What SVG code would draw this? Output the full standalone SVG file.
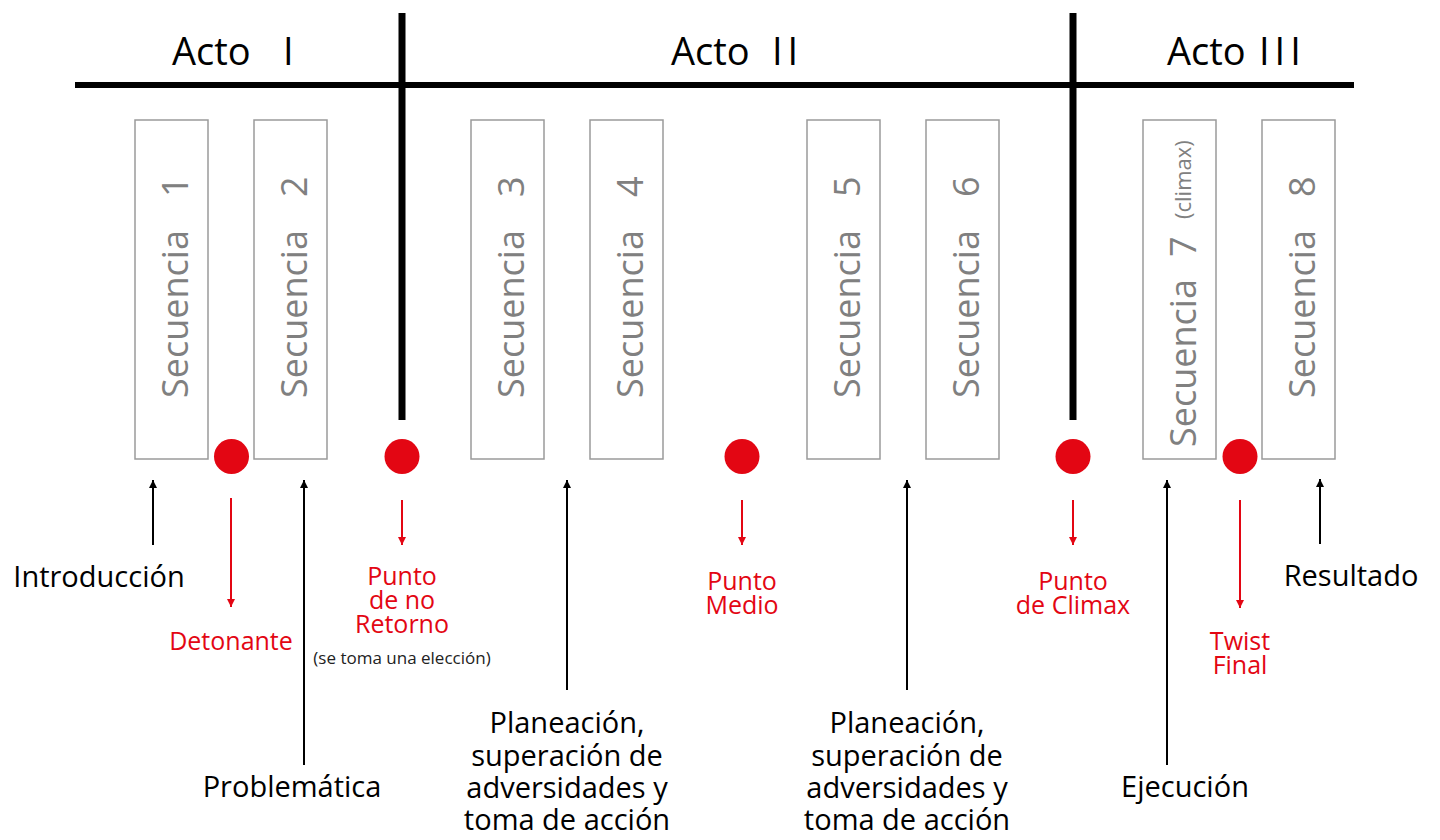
<svg xmlns="http://www.w3.org/2000/svg" width="1440" height="840" viewBox="0 0 1440 840">
<defs>
<marker id="ab" viewBox="0 0 10 10" refX="10" refY="5" markerWidth="8" markerHeight="9" markerUnits="userSpaceOnUse" orient="auto"><path d="M0,0 L10,5 L0,10 z" fill="#000"/></marker>
<marker id="ar" viewBox="0 0 10 10" refX="10" refY="5" markerWidth="8" markerHeight="9" markerUnits="userSpaceOnUse" orient="auto"><path d="M0,0 L10,5 L0,10 z" fill="#e30613"/></marker>
</defs>
<style>
text{font-family:"Open Sans","Noto Sans","Liberation Sans",sans-serif}
.act{font-size:38px;fill:#000}
.rom{letter-spacing:5px}
.box{fill:#fff;stroke:#9a9a9a;stroke-width:1.5}
.seq{font-size:36px;fill:#808080}
.dot{fill:#e30613}
.blk{stroke:#000;stroke-width:2;fill:none}
.red{stroke:#e30613;stroke-width:2;fill:none}
.lb{font-size:29px;fill:#000;text-anchor:middle}
.lr{font-size:25px;fill:#e30613;text-anchor:middle}
.sm{font-size:17px;fill:#222;text-anchor:middle}
.bar{stroke:#000;stroke-width:7}
</style>
<g id="axes">
<line class="bar" x1="75" y1="85" x2="1354" y2="85" style="stroke-width:6"/>
<line class="bar" x1="402" y1="13" x2="402" y2="420"/>
<line class="bar" x1="1073" y1="13" x2="1073" y2="420"/>
</g>
<g id="acts">
<text class="act" x="172" y="65">Acto<tspan x="283">I</tspan></text>
<text class="act" x="671" y="65">Acto<tspan class="rom" x="772">II</tspan></text>
<text class="act" x="1167" y="65">Acto<tspan class="rom" x="1259">III</tspan></text>
</g>
<g id="seq1"><rect class="box" x="135" y="120" width="73" height="339"/><text class="seq" transform="translate(188,398) rotate(-90)">Secuencia<tspan x="201">1</tspan></text></g>
<g id="seq2"><rect class="box" x="254" y="120" width="73" height="339"/><text class="seq" transform="translate(307,398) rotate(-90)">Secuencia<tspan x="201">2</tspan></text></g>
<g id="seq3"><rect class="box" x="471" y="120" width="73" height="339"/><text class="seq" transform="translate(524,398) rotate(-90)">Secuencia<tspan x="201">3</tspan></text></g>
<g id="seq4"><rect class="box" x="590" y="120" width="73" height="339"/><text class="seq" transform="translate(643,398) rotate(-90)">Secuencia<tspan x="201">4</tspan></text></g>
<g id="seq5"><rect class="box" x="807" y="120" width="73" height="339"/><text class="seq" transform="translate(860,398) rotate(-90)">Secuencia<tspan x="201">5</tspan></text></g>
<g id="seq6"><rect class="box" x="926" y="120" width="73" height="339"/><text class="seq" transform="translate(979,398) rotate(-90)">Secuencia<tspan x="201">6</tspan></text></g>
<g id="seq7"><rect class="box" x="1143" y="120" width="73" height="339"/><text class="seq" transform="translate(1196,447) rotate(-90)">Secuencia<tspan x="190">7</tspan><tspan x="228" dy="-5" style="font-size:22px">(climax)</tspan></text></g>
<g id="seq8"><rect class="box" x="1262" y="120" width="73" height="339"/><text class="seq" transform="translate(1315,398) rotate(-90)">Secuencia<tspan x="201">8</tspan></text></g>
<g id="points">
<circle class="dot" cx="231.5" cy="456.5" r="17.5"/>
<circle class="dot" cx="402" cy="456.5" r="17.5"/>
<circle class="dot" cx="742" cy="456.5" r="17.5"/>
<circle class="dot" cx="1073" cy="456.5" r="17.5"/>
<circle class="dot" cx="1240" cy="456.5" r="17.5"/>
</g>
<g id="connectors">
<line class="blk" x1="153" y1="545" x2="153" y2="480" marker-end="url(#ab)"/>
<line class="blk" x1="304" y1="765" x2="304" y2="480" marker-end="url(#ab)"/>
<line class="blk" x1="567" y1="690" x2="567" y2="480" marker-end="url(#ab)"/>
<line class="blk" x1="907" y1="690" x2="907" y2="480" marker-end="url(#ab)"/>
<line class="blk" x1="1167" y1="765" x2="1167" y2="480" marker-end="url(#ab)"/>
<line class="blk" x1="1320" y1="544" x2="1320" y2="479" marker-end="url(#ab)"/>
<line class="red" x1="231" y1="498" x2="231" y2="607" marker-end="url(#ar)"/>
<line class="red" x1="402" y1="500" x2="402" y2="545" marker-end="url(#ar)"/>
<line class="red" x1="742" y1="500" x2="742" y2="545" marker-end="url(#ar)"/>
<line class="red" x1="1073" y1="500" x2="1073" y2="545" marker-end="url(#ar)"/>
<line class="red" x1="1240" y1="500" x2="1240" y2="608" marker-end="url(#ar)"/>
</g>
<g id="labels">
<text class="lb" x="99" y="587">Introducción</text>
<text class="lr" x="231" y="650">Detonante</text>
<text class="lb" x="292" y="797">Problemática</text>
<text class="lr"><tspan x="402" y="585">Punto</tspan><tspan x="402" y="609">de no</tspan><tspan x="402" y="633">Retorno</tspan></text>
<text class="sm" x="402" y="664">(se toma una elección)</text>
<text class="lb"><tspan x="567" y="733">Planeación,</tspan><tspan x="567" y="766">superación de</tspan><tspan x="567" y="798">adversidades y</tspan><tspan x="567" y="830">toma de acción</tspan></text>
<text class="lr"><tspan x="742" y="590">Punto</tspan><tspan x="742" y="614">Medio</tspan></text>
<text class="lb"><tspan x="907" y="733">Planeación,</tspan><tspan x="907" y="766">superación de</tspan><tspan x="907" y="798">adversidades y</tspan><tspan x="907" y="830">toma de acción</tspan></text>
<text class="lr"><tspan x="1073" y="590">Punto</tspan><tspan x="1073" y="614">de Climax</tspan></text>
<text class="lb" x="1185" y="797">Ejecución</text>
<text class="lr"><tspan x="1240" y="650">Twist</tspan><tspan x="1240" y="674">Final</tspan></text>
<text class="lb" x="1351" y="586">Resultado</text>
</g>
</svg>
